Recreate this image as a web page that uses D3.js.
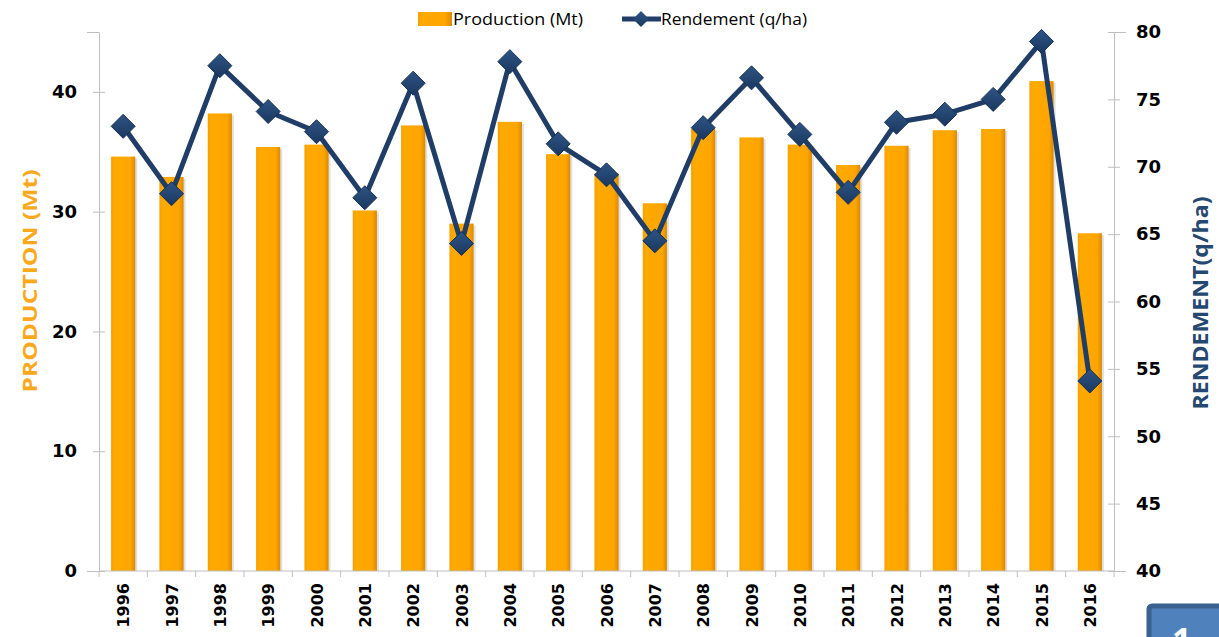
<!DOCTYPE html>
<html>
<head>
<meta charset="utf-8">
<script src="https://cdn.jsdelivr.net/npm/d3@7"></script>
<style>
  body { margin: 0; background: #fff; }
  svg { display: block; font-family: "Open Sans", "DejaVu Sans", sans-serif; }
</style>
</head>
<body>
<svg id="chart" width="1219" height="637"></svg>
<script>
var years = ["1996","1997","1998","1999","2000","2001","2002","2003","2004","2005","2006",
             "2007","2008","2009","2010","2011","2012","2013","2014","2015","2016"];
var production = [34.6, 32.9, 38.2, 35.4, 35.6, 30.1, 37.2, 29.0, 37.5, 34.8, 33.2,
                  30.7, 36.9, 36.2, 35.6, 33.9, 35.5, 36.8, 36.9, 40.9, 28.2];
var rendement = [73.0, 68.0, 77.5, 74.1, 72.6, 67.7, 76.2, 64.3, 77.8, 71.7, 69.4,
                 64.5, 72.9, 76.6, 72.4, 68.1, 73.3, 73.9, 75.0, 79.3, 54.1];
var prodTicks = [0, 10, 20, 30, 40];
var rendTicks = [40, 45, 50, 55, 60, 65, 70, 75, 80];

var svg = d3.select("#chart");
var margin = {top: 32, right: 105, bottom: 66, left: 99},
    width = +svg.attr("width") - margin.left - margin.right,
    height = +svg.attr("height") - margin.top - margin.bottom;

var defs = svg.append("defs");
var barGrad = defs.append("linearGradient").attr("id", "barGrad")
    .attr("x1", "0").attr("x2", "1").attr("y1", "0").attr("y2", "0");
barGrad.append("stop").attr("offset", "0").attr("stop-color", "#f7a000");
barGrad.append("stop").attr("offset", "0.15").attr("stop-color", "#ffaa00");
barGrad.append("stop").attr("offset", "0.8").attr("stop-color", "#ffa500");
barGrad.append("stop").attr("offset", "1").attr("stop-color", "#d98a00");
var dGrad = defs.append("linearGradient").attr("id", "dGrad")
    .attr("x1", "0").attr("x2", "0").attr("y1", "0").attr("y2", "1");
dGrad.append("stop").attr("offset", "0").attr("stop-color", "#2e5484");
dGrad.append("stop").attr("offset", "1").attr("stop-color", "#1a3860");

var g = svg.append("g").attr("transform", "translate(" + margin.left + "," + margin.top + ")");

var x = d3.scaleBand().domain(years).range([0, width]).paddingInner(0.5).paddingOuter(0.25);
var xb = d3.scaleBand().domain(years).range([0, width]);
var y = d3.scaleLinear().domain([0, 45]).range([height, 0]);
var y2 = d3.scaleLinear().domain([40, 80]).range([height, 0]);

var boldFont = "'DejaVu Sans', Verdana, sans-serif";
var textFont = "'Open Sans', 'DejaVu Sans', sans-serif";

// bars
g.selectAll(".shadow").data(production).enter().append("rect")
    .attr("x", function(d, i) { return x(years[i]) + 2; })
    .attr("y", function(d) { return y(d) + 2; })
    .attr("width", x.bandwidth())
    .attr("height", function(d) { return height - y(d) - 2; })
    .style("fill", "#ccc").style("opacity", 0.6);
g.selectAll(".bar").data(production).enter().append("rect")
    .attr("class", "bar")
    .attr("x", function(d, i) { return x(years[i]); })
    .attr("y", function(d) { return y(d); })
    .attr("width", x.bandwidth())
    .attr("height", function(d) { return height - y(d); })
    .style("fill", "url(#barGrad)");

// axes
var axisColor = "#bfbfbf";
var xAxis = g.append("g").attr("transform", "translate(0," + height + ")");
xAxis.append("line").attr("x1", 0).attr("x2", width).attr("stroke", axisColor);
xAxis.selectAll(".tk").data(years.concat(["end"])).enter().append("line")
    .attr("x1", function(d, i) { return i * xb.bandwidth(); })
    .attr("x2", function(d, i) { return i * xb.bandwidth(); })
    .attr("y1", 0).attr("y2", 6).attr("stroke", axisColor);
xAxis.selectAll(".lbl").data(years).enter().append("text")
    .attr("transform", function(d) { return "translate(" + (xb(d) + xb.bandwidth() / 2 + 6) + ",12) rotate(-90)"; })
    .style("text-anchor", "end")
    .style("font-family", boldFont)
    .style("font-size", "16px").style("font-weight", "bold").style("fill", "#000")
    .text(function(d) { return d; });

var yAxisL = d3.axisLeft(y).tickValues(prodTicks).tickSize(12).tickPadding(10);
var gl = g.append("g").call(yAxisL);
gl.select(".domain").attr("stroke", axisColor);
gl.selectAll(".tick line").attr("stroke", axisColor).attr("transform", "translate(6,0)");
gl.selectAll(".tick text").style("font-size", "18px").style("font-weight", "bold")
    .style("font-family", boldFont).attr("fill", "#000");

var yAxisR = d3.axisRight(y2).tickValues(rendTicks).tickSize(12).tickPadding(10);
var gr = g.append("g").attr("transform", "translate(" + width + ",0)").call(yAxisR);
gr.select(".domain").attr("stroke", axisColor);
gr.selectAll(".tick line").attr("stroke", axisColor).attr("transform", "translate(-6,0)");
gr.selectAll(".tick text").style("font-size", "18px").style("font-weight", "bold")
    .style("font-family", boldFont).attr("fill", "#000");

// axis titles
svg.append("text")
    .attr("transform", "translate(37,281) rotate(-90)")
    .style("text-anchor", "middle").style("font-family", textFont)
    .style("font-size", "20px").style("font-weight", "bold")
    .attr("textLength", 223).attr("lengthAdjust", "spacingAndGlyphs")
    .style("fill", "#fba91c").text("PRODUCTION (Mt)");
svg.append("text")
    .attr("transform", "translate(1208,303) rotate(-90)")
    .style("text-anchor", "middle").style("font-family", textFont)
    .style("font-size", "22px").style("font-weight", "bold")
    .attr("textLength", 213).attr("lengthAdjust", "spacingAndGlyphs")
    .style("fill", "#254870").text("RENDEMENT(q/ha)");

// line
var lineColor = "#1f3d66";
var line = d3.line()
    .x(function(d, i) { return xb(years[i]) + xb.bandwidth() / 2; })
    .y(function(d) { return y2(d); });
g.append("path").datum(rendement).attr("d", line)
    .attr("fill", "none").attr("stroke", lineColor).attr("stroke-width", 5)
    .attr("stroke-linejoin", "round");
g.selectAll(".pt").data(rendement).enter().append("path")
    .attr("transform", function(d, i) { return "translate(" + (xb(years[i]) + xb.bandwidth() / 2) + "," + y2(d) + ")"; })
    .attr("d", "M0,-12L12,0L0,12L-12,0Z")
    .style("fill", "url(#dGrad)").style("stroke", "#173257").style("stroke-width", 1);

// legend
var lg = svg.append("g").attr("transform", "translate(418,8)");
lg.append("rect").attr("x", 0).attr("y", 4).attr("width", 34).attr("height", 14)
    .style("fill", "url(#barGrad)");
lg.append("text").attr("x", 35).attr("y", 17).style("font-family", textFont).style("font-size", "17px")
    .attr("textLength", 130).attr("lengthAdjust", "spacingAndGlyphs")
    .style("fill", "#000").text("Production (Mt)");
lg.append("line").attr("x1", 204).attr("x2", 243).attr("y1", 11).attr("y2", 11)
    .attr("stroke", lineColor).attr("stroke-width", 5);
lg.append("path").attr("transform", "translate(223,11)").attr("d", "M0,-8L8,0L0,8L-8,0Z")
    .style("fill", "url(#dGrad)");
lg.append("text").attr("x", 243).attr("y", 17).style("font-family", textFont).style("font-size", "17px")
    .attr("textLength", 146).attr("lengthAdjust", "spacingAndGlyphs")
    .style("fill", "#000").text("Rendement (q/ha)");

// page number box
svg.append("rect").attr("x", 1149).attr("y", 606).attr("width", 80).attr("height", 40).attr("rx", 3)
    .style("fill", "#4f81bd").style("stroke", "#3a6090").style("stroke-width", 5);
svg.append("text").attr("x", 1172).attr("y", 652).style("font-family", textFont)
    .style("font-size", "34px").style("font-weight", "bold")
    .style("fill", "#fff").text("1");
</script>
</body>
</html>
